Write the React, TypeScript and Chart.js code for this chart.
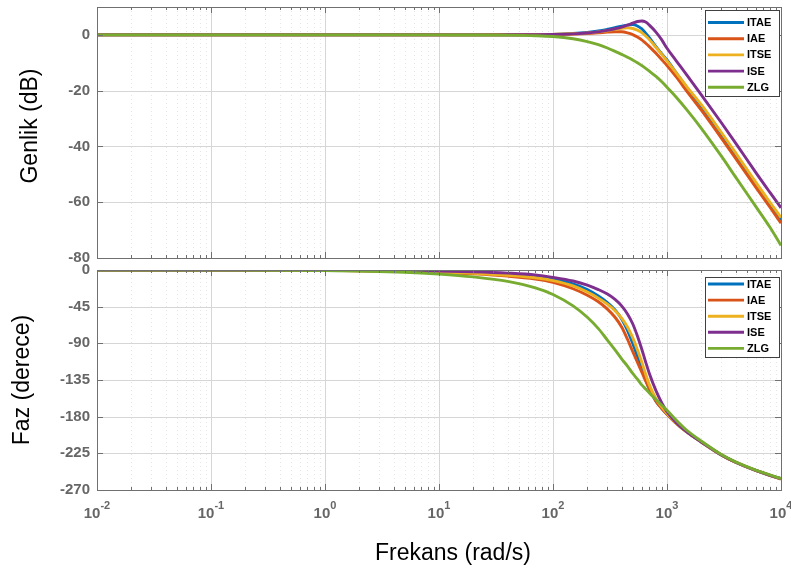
import React, { useEffect, useRef } from 'react';
import { Chart, registerables } from 'chart.js';

Chart.register(...registerables);

const FONT = "'Liberation Sans', Arial, Helvetica, sans-serif";

// ---- data ----
const freqs = [0.01, 0.1, 1, 5, 10, 20, 40, 70, 100, 150, 200, 250, 300, 350, 400, 450, 500, 550, 600, 650, 700, 800, 900, 1000, 1200, 1500, 2000, 3000, 4000, 6000, 8000, 10000];

const seriesNames = ['ITAE', 'IAE', 'ITSE', 'ISE', 'ZLG'];
const seriesColors = ['#0072BD', '#D95319', '#EDB120', '#7E2F8E', '#77AC30'];

// magnitude (dB)
const magITAE = [0, 0, 0, 0, 0, 0, 0.05, 0.1, 0.2, 0.5, 0.9, 1.4, 2.0, 2.6, 3.1, 3.5, 3.7, 3.2, 2.2, 0.6, -1.0, -4.2, -6.8, -9.0, -13.5, -19.0, -25.5, -35.5, -43.0, -53.5, -60.7, -66.5];
const magIAE = [0, 0, 0, 0, 0, 0, 0.05, 0.1, 0.15, 0.3, 0.5, 0.75, 1.0, 1.15, 1.1, 0.7, 0.1, -0.8, -1.8, -3.0, -4.2, -6.6, -8.9, -11.0, -15.0, -20.3, -27.0, -37.0, -44.3, -54.6, -61.8, -67.5];
const magITSE = [0, 0, 0, 0, 0, 0, 0.05, 0.1, 0.2, 0.4, 0.7, 1.1, 1.5, 2.0, 2.4, 2.5, 2.3, 1.7, 0.8, -0.4, -1.7, -4.5, -7.0, -9.3, -13.5, -18.7, -25.0, -35.0, -42.3, -52.8, -60.0, -65.5];
const magISE = [0, 0, 0, 0, 0, 0, 0.03, 0.07, 0.15, 0.35, 0.7, 1.1, 1.6, 2.2, 2.8, 3.5, 4.2, 4.8, 5.0, 4.6, 3.5, 1.0, -1.8, -4.8, -9.2, -14.5, -21.5, -31.5, -38.8, -49.3, -56.5, -62.0];
const magZLG = [0, 0, 0, 0, -0.01, -0.03, -0.1, -0.3, -0.6, -1.4, -2.4, -3.5, -4.7, -5.9, -7.0, -8.0, -9.0, -10.0, -11.0, -12.0, -13.0, -14.9, -16.8, -18.8, -22.3, -27.0, -33.5, -43.5, -51.0, -61.5, -69.0, -75.5];

// phase (degrees)
const phITAE = [0, -0.1, -0.3, -1.2, -2.2, -3.5, -5.5, -8, -11, -17, -24, -32, -40, -49, -60, -74, -90, -106, -121, -135, -146, -161, -170, -177, -188, -199, -211, -227, -236, -246, -252, -256];
const phIAE = [0, -0.1, -0.5, -1.8, -3, -4.8, -7.5, -11, -15, -23, -31, -39, -48, -58, -70, -85, -100, -113, -125, -136, -146, -161, -170, -177, -188, -199, -211, -227, -236, -246, -252, -256.5];
const phITSE = [0, -0.1, -0.4, -1.5, -2.6, -4, -6.5, -9.5, -13, -19.5, -27, -34.5, -42, -50, -59, -70, -83, -98, -113, -128, -141, -158, -168, -176, -188, -199, -211, -227, -236, -246, -252, -256];
const phISE = [0, 0, -0.2, -0.8, -1.3, -2.2, -3.8, -6, -9, -13.5, -18.5, -24, -29.5, -36, -44, -54, -66, -81, -97, -113, -127, -148, -163, -174, -187, -199, -211, -227, -236, -246, -252, -256];
const phZLG = [0, -0.1, -0.6, -2.7, -5, -8.5, -14, -22, -30, -44, -58, -72, -86, -98, -109, -118, -127, -134, -141, -146, -151, -159, -166, -172, -184, -197, -210, -226.5, -235.5, -245.5, -251.5, -256];

const magTicks = [-80, -60, -40, -20, 0];
const phaseTicks = [-270, -225, -180, -135, -90, -45, 0];
const decadeExponents = [-2, -1, 0, 1, 2, 3, 4];

const xTitle = 'Frekans (rad/s)';
const magTitle = 'Genlik (dB)';
const phaseTitle = 'Faz (derece)';

// ---- styling ----
const FRAME = '#707070';
const GRID_MAJOR = '#d6d6d6';
const GRID_MINOR = '#e6e6e6';
const TICK_COLOR = '#666666';
const LINE_W = 2.9;

function buildDatasets(values: number[][]) {
  return seriesNames.map((name, i) => ({
    label: name,
    data: freqs.map((f, j) => ({ x: f, y: values[i][j] })),
    borderColor: seriesColors[i],
    backgroundColor: seriesColors[i],
    borderWidth: LINE_W,
    pointRadius: 0,
    pointHoverRadius: 0,
    fill: false,
    cubicInterpolationMode: 'monotone' as const,
    order: seriesNames.length - i,
  }));
}

type PanelOpts = {
  yTicks: number[];
  legend: { left: number; right: number; top: number; bottom: number; first: number; step: number };
  yTitle: { text: string; x: number; y: number };
  xLabels?: { tenY: number; expY: number };
  xTitleInfo?: { text: string; x: number; y: number };
};

function makePlugin(o: PanelOpts) {
  return {
    id: 'bodePanel',
    beforeDatasetsDraw(chart: any) {
      const { ctx, chartArea: a, scales } = chart;
      const xs = scales.x;
      const ys = scales.y;
      ctx.save();
      ctx.lineWidth = 1;
      // minor x grid (dotted)
      ctx.strokeStyle = GRID_MINOR;
      ctx.setLineDash([1, 3]);
      ctx.beginPath();
      for (const e of decadeExponents) {
        for (let k = 2; k <= 9; k++) {
          const v = k * Math.pow(10, e);
          if (v >= 10000) continue;
          const px = Math.round(xs.getPixelForValue(v)) + 0.5;
          ctx.moveTo(px, a.top);
          ctx.lineTo(px, a.bottom);
        }
      }
      ctx.stroke();
      ctx.setLineDash([]);
      // major grid
      ctx.strokeStyle = GRID_MAJOR;
      ctx.beginPath();
      for (const e of decadeExponents) {
        const px = Math.round(xs.getPixelForValue(Math.pow(10, e))) + 0.5;
        if (px <= a.left + 1 || px >= a.right - 1) continue;
        ctx.moveTo(px, a.top);
        ctx.lineTo(px, a.bottom);
      }
      for (const v of o.yTicks) {
        const py = Math.round(ys.getPixelForValue(v)) + 0.5;
        if (py <= a.top + 1 || py >= a.bottom - 1) continue;
        ctx.moveTo(a.left, py);
        ctx.lineTo(a.right, py);
      }
      ctx.stroke();
      ctx.restore();
    },
    afterDatasetsDraw(chart: any) {
      const { ctx, chartArea: a, scales } = chart;
      const xs = scales.x;
      const ys = scales.y;
      ctx.save();
      ctx.lineWidth = 1;
      ctx.strokeStyle = FRAME;
      ctx.beginPath();
      for (const e of decadeExponents) {
        for (let k = 1; k <= 9; k++) {
          const v = k * Math.pow(10, e);
          if (v > 10000) continue;
          const px = Math.round(xs.getPixelForValue(v)) + 0.5;
          const len = k === 1 ? 6 : 3;
          ctx.moveTo(px, a.top);
          ctx.lineTo(px, a.top + len);
          ctx.moveTo(px, a.bottom);
          ctx.lineTo(px, a.bottom - len);
        }
      }
      for (const v of o.yTicks) {
        const py = Math.round(ys.getPixelForValue(v)) + 0.5;
        ctx.moveTo(a.left, py);
        ctx.lineTo(a.left + 6, py);
        ctx.moveTo(a.right, py);
        ctx.lineTo(a.right - 6, py);
      }
      ctx.stroke();
      ctx.strokeRect(Math.round(a.left) + 0.5, Math.round(a.top) + 0.5, Math.round(a.right - a.left), Math.round(a.bottom - a.top));

      // legend
      const L = o.legend;
      ctx.fillStyle = '#ffffff';
      ctx.fillRect(L.left, L.top, L.right - L.left, L.bottom - L.top);
      ctx.strokeStyle = '#404040';
      ctx.strokeRect(L.left + 0.5, L.top + 0.5, L.right - L.left, L.bottom - L.top);
      ctx.font = `bold 11px ${FONT}`;
      ctx.textBaseline = 'middle';
      ctx.textAlign = 'left';
      chart.data.datasets.forEach((ds: any, i: number) => {
        const y = L.first + i * L.step;
        ctx.strokeStyle = ds.borderColor;
        ctx.lineWidth = LINE_W;
        ctx.beginPath();
        ctx.moveTo(L.left + 3, y);
        ctx.lineTo(L.left + 39, y);
        ctx.stroke();
        ctx.fillStyle = '#000000';
        ctx.fillText(ds.label, L.left + 42, y + 0.5);
      });
      ctx.restore();
    },
    afterDraw(chart: any) {
      const { ctx, scales } = chart;
      const xs = scales.x;
      ctx.save();
      ctx.fillStyle = '#000000';
      ctx.font = `23px ${FONT}`;
      ctx.textAlign = 'center';
      ctx.textBaseline = 'middle';
      ctx.save();
      ctx.translate(o.yTitle.x, o.yTitle.y);
      ctx.rotate(-Math.PI / 2);
      ctx.fillText(o.yTitle.text, 0, 0);
      ctx.restore();
      if (o.xTitleInfo) {
        ctx.fillText(o.xTitleInfo.text, o.xTitleInfo.x, o.xTitleInfo.y);
      }
      if (o.xLabels) {
        ctx.fillStyle = TICK_COLOR;
        ctx.textAlign = 'left';
        for (const e of decadeExponents) {
          const px = xs.getPixelForValue(Math.pow(10, e));
          ctx.font = `bold 15px ${FONT}`;
          const tenW = ctx.measureText('10').width;
          ctx.font = `bold 11px ${FONT}`;
          const expText = String(e);
          const expW = ctx.measureText(expText).width;
          const start = px - (tenW + expW) / 2;
          ctx.font = `bold 15px ${FONT}`;
          ctx.fillText('10', start, o.xLabels.tenY);
          ctx.font = `bold 11px ${FONT}`;
          ctx.fillText(expText, start + tenW, o.xLabels.expY);
        }
      }
      ctx.restore();
    },
  };
}

function makeOptions(yMin: number, yMax: number, yTicks: number[], padTop: number, xHeight: number) {
  return {
    responsive: false,
    maintainAspectRatio: false,
    animation: false as const,
    events: [] as any[],
    layout: { padding: { top: padTop, right: 10, left: 0, bottom: 0 } },
    plugins: { legend: { display: false }, tooltip: { enabled: false }, title: { display: false } },
    scales: {
      x: {
        type: 'logarithmic' as const,
        min: 0.01,
        max: 10000,
        grid: { display: false, drawTicks: false },
        border: { display: false },
        ticks: { display: false },
        afterFit: (s: any) => {
          s.height = xHeight;
          s.paddingLeft = 0;
          s.paddingRight = 0;
        },
      },
      y: {
        type: 'linear' as const,
        min: yMin,
        max: yMax,
        grid: { display: false, drawTicks: false, tickLength: 0 },
        border: { display: false },
        afterBuildTicks: (s: any) => {
          s.ticks = yTicks.map((v) => ({ value: v }));
        },
        ticks: {
          color: TICK_COLOR,
          font: { family: FONT, size: 15, weight: 'bold' as const },
          padding: 7,
          autoSkip: false,
          callback: (v: any) => String(v),
        },
        afterFit: (s: any) => {
          s.width = 97;
          s.paddingTop = 0;
          s.paddingBottom = 0;
        },
      },
    },
  };
}

const TOP_H = 270;
const BOT_TOP = 262;
const BOT_H = 568 - BOT_TOP;

export default function App() {
  const magRef = useRef<HTMLCanvasElement>(null);
  const phRef = useRef<HTMLCanvasElement>(null);

  useEffect(() => {
    if (!magRef.current || !phRef.current) return;
    const magChart = new Chart(magRef.current, {
      type: 'line',
      data: { datasets: buildDatasets([magITAE, magIAE, magITSE, magISE, magZLG]) as any },
      options: makeOptions(-80, 10, magTicks, 7, TOP_H - 258) as any,
      plugins: [
        makePlugin({
          yTicks: magTicks,
          legend: { left: 705, right: 779, top: 10, bottom: 96, first: 22.5, step: 16.2 },
          yTitle: { text: magTitle, x: 31, y: 126 },
        }),
      ],
    });
    const phChart = new Chart(phRef.current, {
      type: 'line',
      data: { datasets: buildDatasets([phITAE, phIAE, phITSE, phISE, phZLG]) as any },
      options: makeOptions(-270, 0, phaseTicks, 270 - BOT_TOP, BOT_H - (490 - BOT_TOP)) as any,
      plugins: [
        makePlugin({
          yTicks: phaseTicks,
          legend: { left: 705, right: 779, top: 277 - BOT_TOP, bottom: 357 - BOT_TOP, first: 284 - BOT_TOP, step: 16.1 },
          yTitle: { text: phaseTitle, x: 23, y: 380 - BOT_TOP },
          xLabels: { tenY: 514 - BOT_TOP, expY: 506 - BOT_TOP },
          xTitleInfo: { text: xTitle, x: 453, y: 554 - BOT_TOP },
        }),
      ],
    });
    return () => {
      magChart.destroy();
      phChart.destroy();
    };
  }, []);

  return (
    <div style={{ position: 'absolute', left: 0, top: 0, width: 791, height: 568, background: '#ffffff', overflow: 'hidden' }}>
      <canvas ref={magRef} width={791} height={TOP_H} style={{ position: 'absolute', left: 0, top: 0, width: 791, height: TOP_H }} />
      <canvas ref={phRef} width={791} height={BOT_H} style={{ position: 'absolute', left: 0, top: BOT_TOP, width: 791, height: BOT_H }} />
    </div>
  );
}
